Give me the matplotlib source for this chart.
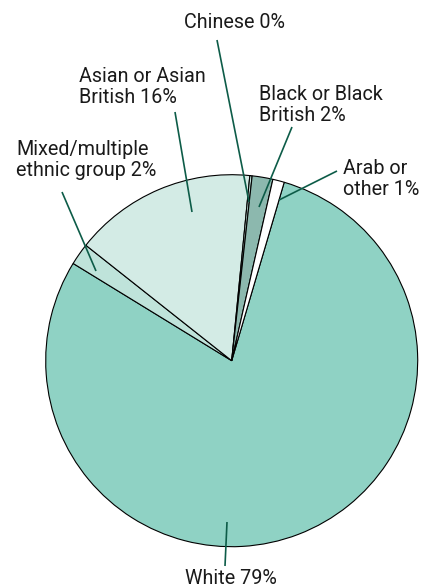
import matplotlib
matplotlib.use("Agg")
import matplotlib.pyplot as plt

# slice shares (clockwise from the White slice)
groups = ["White", "Mixed/multiple ethnic group", "Asian or Asian British",
          "Chinese", "Black or Black British", "Arab or other"]
shares = [79.2, 1.9, 15.9, 0.2, 1.8, 1.0]
labels = ["White 79%", "Mixed/multiple\nethnic group 2%", "Asian or Asian\nBritish 16%",
          "Chinese 0%", "Black or Black\nBritish 2%", "Arab or\nother 1%"]
colors = ["#8fd2c4", "#bfe3da", "#d3ebe5", "#c4e2db", "#8cb8ae", "#ffffff"]

W, H = 421, 588
LEADER = "#0d5c48"

plt.rcParams['font.family'] = ['Roboto', 'DejaVu Sans']

fig = plt.figure(figsize=(W / 100, H / 100), dpi=100)
ax = fig.add_axes([0, 0, 1, 1])

def py(y):
    # pixel row -> data y
    return H - y

ax.pie(shares, colors=colors, startangle=73.6, counterclock=False,
       center=(231.7, py(360.7)), radius=186, frame=True,
       wedgeprops=dict(edgecolor="black", linewidth=0.8))
ax.set_xlim(0, W)
ax.set_ylim(0, H)
ax.set_aspect("equal")
ax.axis("off")

# label placement (pixels): text anchor, leader start, leader end
layout = {
    "White 79%": ((231, 578, "center"), (225, 566), (227, 522)),
    "Mixed/multiple\nethnic group 2%": ((16, 160, "left"), (62, 192), (96, 271)),
    "Asian or Asian\nBritish 16%": ((79, 87, "left"), (175, 112), (192, 212)),
    "Chinese 0%": ((184, 22, "left"), (217, 40), (249, 202)),
    "Black or Black\nBritish 2%": ((259, 105, "left"), (292, 127), (259, 207)),
    "Arab or\nother 1%": ((343, 179, "left"), (337, 171), (279, 200)),
}

for lab in labels:
    (tx, ty, ha), p0, p1 = layout[lab]
    ax.text(tx, py(ty), lab, ha=ha, va="center", fontsize=14.2,
            color="#1a1a1a", linespacing=1.1)
    ax.plot([p0[0], p1[0]], [py(p0[1]), py(p1[1])], color=LEADER, lw=1.2,
            solid_capstyle="butt")

fig.savefig("out.png", dpi=100)
